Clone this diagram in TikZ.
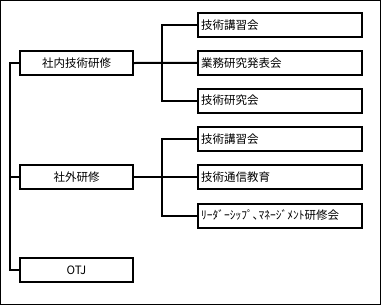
\documentclass[tikz,border=0pt]{standalone}
\usepackage{fontspec}
\newfontfamily\jp{Noto Sans CJK JP}

\begin{document}
\begin{tikzpicture}[x=1pt, y=-1pt, line width=2pt,
	every node/.style={font=\jp\fontsize{11.5}{12}\selectfont},
	groupbox/.style={draw, minimum width=113pt, minimum height=24pt, inner sep=0pt},
	itembox/.style={draw, anchor=west, text width=158pt, align=left, inner xsep=3pt, minimum height=24pt, inner ysep=0pt}]
	\useasboundingbox (0,0) rectangle (382,306);
	\draw[line width=1.2pt] (0.6,0.6) rectangle (380.6,304.6);
	% left column
	\node[groupbox] (inner) at (76.5,63) {社内技術研修};
	\node[groupbox] (outer) at (76.5,177) {社外研修};
	\node[groupbox] (otj) at (76.5,270) {OTJ};
	% right column
	\foreach \name/\y/\txt in {a1/24.7/技術講習会, a2/62.8/業務研究発表会, a3/100.5/技術研究会,
		b1/139/技術講習会, b2/177/技術通信教育, b3/215.5/ﾘｰﾀﾞｰｼｯﾌﾟ､ﾏﾈｰｼﾞﾒﾝﾄ研修会} {
		\node[itembox] (\name) at (197,\y) {\txt};
	}
	\coordinate (trunk) at (10,0);
	\coordinate (bus) at (161.5,0);
	\draw (inner.west) -- (inner.west -| trunk) -- (otj.west -| trunk) -- (otj.west);
	\draw (outer.west) -- (outer.west -| trunk);
	\draw (inner.east) -- (a2.west);
	\draw (a1.west) -- (a1.west -| bus) -- (a3.west -| bus) -- (a3.west);
	\draw (outer.east) -- (b2.west);
	\draw (b1.west) -- (b1.west -| bus) -- (b3.west -| bus) -- (b3.west);
\end{tikzpicture}
\end{document}
